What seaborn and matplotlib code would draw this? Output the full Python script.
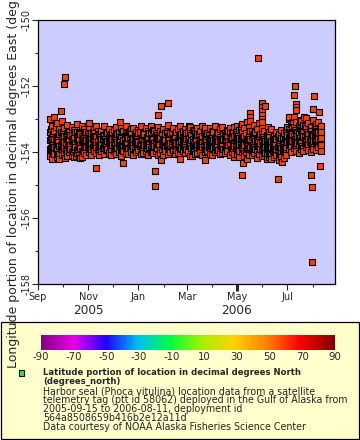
import pandas as pd
import seaborn as sns
import matplotlib.pyplot as plt
import matplotlib.dates as mdates
from matplotlib.colors import LinearSegmentedColormap, Normalize
from matplotlib.cm import ScalarMappable
from matplotlib.patches import Rectangle

# Données : jours depuis le déploiement (2005-09-15) et longitude
start = pd.Timestamp('2005-09-15')

band_day = [0, 3, 6, 9, 12, 15, 18, 21, 24, 27, 30, 33, 36, 39, 42, 45, 48, 51, 54, 57,
            60, 63, 66, 69, 72, 75, 78, 81, 84, 87, 90, 93, 96, 99, 102, 105, 108, 111, 114, 117,
            120, 123, 126, 129, 132, 135, 138, 141, 144, 147, 150, 153, 156, 159, 162, 165, 168, 171, 174, 177,
            180, 183, 186, 189, 192, 195, 198, 201, 204, 207, 210, 213, 216, 219, 222, 225, 228, 231, 234, 237,
            240, 243, 246, 249, 252, 255, 258, 261, 264, 267, 270, 273, 276, 279, 282, 285, 288, 291, 294, 297,
            300, 303, 306, 309, 312, 315, 318, 321, 324, 327, 330]

lon_s1 = [-153.0, -153.22, -152.95, -153.12, -153.3, -153.05,
          -153.28, -153.18, -153.4, -153.25, -153.33, -153.15, -153.42, -153.22, -153.3, -153.38,
          -153.25, -153.41, -153.3, -153.22, -153.44, -153.35, -153.2, -153.38, -153.29, -153.45,
          -153.32, -153.24, -153.4, -153.27, -153.36, -153.21, -153.43, -153.31, -153.26, -153.39,
          -153.34, -153.22, -153.42, -153.28, -153.37, -153.2, -153.33, -153.45, -153.25, -153.35,
          -153.3, -153.41, -153.23, -153.38, -153.27, -153.44, -153.31, -153.21, -153.36, -153.29,
          -153.4, -153.24, -153.34, -153.43, -153.26, -153.37, -153.22, -153.32, -153.45, -153.28,
          -153.35, -153.21, -153.39, -153.3, -153.25, -153.42, -153.33, -153.27, -153.38, -153.23,
          -153.2, -153.32, -153.15, -153.28, -153.1, -153.25, -153.35, -153.18, -153.3, -153.12, -153.26,
          -153.35, -153.48, -153.4, -153.3, -153.5, -153.38, -153.45, -153.33, -153.42, -153.36,
          -153.0, -153.15, -152.95, -153.1, -153.22, -153.05, -153.18, -152.98, -153.12, -153.25,
          -153.02, -153.15, -153.08, -153.2]

lon_s2 = [-153.4, -153.55, -153.35, -153.6, -153.45, -153.5,
          -153.5, -153.42, -153.62, -153.47, -153.56, -153.4, -153.6, -153.52, -153.45, -153.58,
          -153.5, -153.62, -153.42, -153.56, -153.47, -153.64, -153.53, -153.4, -153.59, -153.48,
          -153.61, -153.44, -153.55, -153.5, -153.63, -153.41, -153.57, -153.46, -153.6, -153.52,
          -153.43, -153.58, -153.49, -153.65, -153.54, -153.45, -153.6, -153.42, -153.56, -153.51,
          -153.62, -153.47, -153.53, -153.41, -153.59, -153.5, -153.64, -153.44, -153.55, -153.48,
          -153.57, -153.42, -153.61, -153.52, -153.46, -153.63, -153.5, -153.55, -153.43, -153.58,
          -153.49, -153.6, -153.45, -153.54, -153.62, -153.47, -153.56, -153.41, -153.59, -153.52,
          -153.45, -153.58, -153.4, -153.52, -153.62, -153.47, -153.55, -153.42, -153.6, -153.5, -153.44,
          -153.6, -153.7, -153.56, -153.66, -153.74, -153.62, -153.68, -153.58, -153.72, -153.64,
          -153.3, -153.42, -153.25, -153.38, -153.46, -153.32, -153.4, -153.28, -153.44, -153.35,
          -153.5, -153.3, -153.38, -153.45]

lon_s3 = [-153.65, -153.78, -153.6, -153.72, -153.82, -153.68,
          -153.7, -153.62, -153.8, -153.66, -153.75, -153.6, -153.78, -153.68, -153.74, -153.64,
          -153.66, -153.74, -153.58, -153.7, -153.79, -153.62, -153.75, -153.68, -153.56, -153.72,
          -153.77, -153.6, -153.69, -153.8, -153.64, -153.73, -153.57, -153.71, -153.78, -153.63,
          -153.7, -153.59, -153.76, -153.66, -153.74, -153.61, -153.8, -153.68, -153.72, -153.58,
          -153.75, -153.65, -153.7, -153.79, -153.6, -153.73, -153.67, -153.56, -153.77, -153.69,
          -153.62, -153.74, -153.71, -153.59, -153.78, -153.64, -153.72, -153.66, -153.8, -153.61,
          -153.7, -153.76, -153.57, -153.68, -153.73, -153.63, -153.79, -153.67, -153.6, -153.75,
          -153.68, -153.75, -153.62, -153.8, -153.7, -153.65, -153.78, -153.6, -153.72, -153.82, -153.66,
          -153.82, -153.9, -153.78, -153.86, -153.8, -153.92, -153.84, -153.88, -153.76, -153.85,
          -153.55, -153.62, -153.5, -153.66, -153.58, -153.7, -153.52, -153.64, -153.6, -153.56,
          -153.68, -153.54, -153.62, -153.58]

lon_s4 = [-153.9, -154.0, -153.85, -153.95, -154.05, -153.92,
          -153.88, -153.96, -153.82, -154.0, -153.9, -153.94, -153.85, -153.98, -153.9, -153.86,
          -153.84, -153.92, -153.78, -153.88, -153.95, -153.8, -153.9, -153.86, -153.74, -153.93,
          -153.82, -153.89, -153.76, -153.94, -153.85, -153.79, -153.91, -153.83, -153.87, -153.75,
          -153.9, -153.81, -153.95, -153.86, -153.78, -153.92, -153.84, -153.88, -153.77, -153.93,
          -153.8, -153.89, -153.85, -153.74, -153.94, -153.82, -153.87, -153.9, -153.79, -153.86,
          -153.92, -153.76, -153.88, -153.83, -153.95, -153.8, -153.85, -153.91, -153.78, -153.89,
          -153.84, -153.93, -153.77, -153.87, -153.81, -153.94, -153.86, -153.79, -153.9, -153.83,
          -153.9, -153.98, -153.85, -154.02, -153.92, -153.88, -154.0, -153.86, -153.95, -154.05, -153.9,
          -153.98, -154.05, -153.95, -154.1, -154.0, -153.96, -154.08, -154.02, -153.94, -154.04,
          -153.75, -153.82, -153.7, -153.86, -153.78, -153.72, -153.88, -153.76, -153.8, -153.74,
          -153.85, -153.7, -153.82, -153.78]

lon_s5 = [-154.12, -154.2, -154.05, -154.15, -154.22, -154.08,
          -154.05, -154.12, -154.0, -154.1, -154.15, -154.02, -154.08, -154.14, -154.03, -154.1,
          -154.0, -154.08, -153.96, -154.04, -154.1, -153.98, -154.06, -153.95, -154.02, -154.09,
          -153.97, -154.05, -154.0, -154.11, -153.96, -154.03, -154.07, -153.99, -154.1, -154.01,
          -153.95, -154.06, -154.02, -153.98, -154.09, -154.0, -154.04, -153.96, -154.08, -154.03,
          -154.1, -153.97, -154.05, -154.01, -153.95, -154.07, -154.02, -154.09, -153.98, -154.04,
          -154.0, -154.11, -153.96, -154.06, -154.03, -153.99, -154.08, -154.01, -153.97, -154.05,
          -154.1, -154.0, -153.95, -154.07, -154.02, -154.04, -153.98, -154.09, -154.01, -154.06,
          -154.05, -154.15, -154.0, -154.12, -154.2, -154.08, -154.1, -154.02, -154.18, -154.06, -154.12,
          -154.12, -154.2, -154.08, -154.22, -154.15, -154.1, -154.25, -154.14, -154.18, -154.1,
          -153.92, -154.0, -153.88, -153.96, -154.02, -153.9, -153.98, -153.85, -153.95, -154.0,
          -153.9, -153.94, -153.86, -153.98]

# positions intermédiaires (entre deux jours de band_day)
band_day2 = [1.5, 4.5, 7.5, 10.5, 13.5, 16.5, 19.5, 22.5, 25.5, 28.5, 31.5, 34.5, 37.5, 40.5, 43.5,
             46.5, 49.5, 52.5, 55.5, 58.5, 61.5, 64.5, 67.5, 70.5, 73.5, 76.5, 79.5, 82.5, 85.5, 88.5,
             91.5, 94.5, 97.5, 100.5, 103.5, 106.5, 109.5, 112.5, 115.5, 118.5, 121.5, 124.5, 127.5, 130.5,
             133.5, 136.5, 139.5, 142.5, 145.5, 148.5, 151.5, 154.5, 157.5, 160.5, 163.5, 166.5, 169.5, 172.5,
             175.5, 178.5, 181.5, 184.5, 187.5, 190.5, 193.5, 196.5, 199.5, 202.5, 205.5, 208.5, 211.5, 214.5,
             217.5, 220.5, 223.5, 226.5, 229.5, 232.5, 235.5, 238.5, 241.5, 244.5, 247.5, 250.5, 253.5, 256.5,
             259.5, 262.5, 265.5, 268.5, 271.5, 274.5, 277.5, 280.5, 283.5, 286.5, 289.5, 292.5, 295.5, 298.5,
             301.5, 304.5, 307.5, 310.5, 313.5, 316.5, 319.5, 322.5, 325.5, 328.5]

lon_t1 = [-153.3, -153.45, -153.25, -153.5, -153.38,
          -153.42, -153.55, -153.36, -153.48, -153.6, -153.4, -153.52, -153.44, -153.58, -153.38,
          -153.46, -153.58, -153.4, -153.52, -153.36, -153.55, -153.48, -153.6, -153.42, -153.5,
          -153.38, -153.56, -153.45, -153.62, -153.4, -153.53, -153.47, -153.35, -153.58, -153.44,
          -153.51, -153.39, -153.6, -153.46, -153.54, -153.41, -153.57, -153.37, -153.49, -153.55,
          -153.43, -153.61, -153.4, -153.52, -153.46, -153.58, -153.38, -153.5, -153.44, -153.56,
          -153.41, -153.59, -153.47, -153.36, -153.53, -153.45, -153.6, -153.4, -153.51, -153.48,
          -153.57, -153.39, -153.54, -153.43, -153.6, -153.46, -153.5, -153.37, -153.55, -153.42,
          -153.38, -153.5, -153.32, -153.55, -153.42, -153.6, -153.35, -153.48, -153.4, -153.58, -153.45,
          -153.55, -153.66, -153.5, -153.7, -153.58, -153.62, -153.52, -153.68, -153.56, -153.6,
          -153.25, -153.38, -153.2, -153.32, -153.42, -153.28, -153.35, -153.22, -153.4, -153.3,
          -153.45, -153.26, -153.36, -153.32]

lon_t2 = [-153.62, -153.75, -153.58, -153.7, -153.8,
          -153.66, -153.74, -153.6, -153.78, -153.68, -153.72, -153.63, -153.8, -153.7, -153.65,
          -153.64, -153.72, -153.6, -153.76, -153.67, -153.7, -153.62, -153.78, -153.66, -153.73,
          -153.61, -153.75, -153.69, -153.63, -153.77, -153.65, -153.71, -153.6, -153.74, -153.68,
          -153.66, -153.79, -153.62, -153.7, -153.64, -153.76, -153.67, -153.72, -153.61, -153.75,
          -153.69, -153.63, -153.78, -153.65, -153.71, -153.6, -153.73, -153.68, -153.66, -153.77,
          -153.62, -153.7, -153.64, -153.75, -153.67, -153.72, -153.61, -153.78, -153.69, -153.65,
          -153.74, -153.63, -153.7, -153.66, -153.76, -153.62, -153.71, -153.68, -153.6, -153.73,
          -153.62, -153.7, -153.58, -153.75, -153.66, -153.72, -153.6, -153.78, -153.68, -153.64, -153.74,
          -153.78, -153.84, -153.75, -153.88, -153.8, -153.76, -153.86, -153.82, -153.78, -153.84,
          -153.48, -153.55, -153.45, -153.6, -153.52, -153.58, -153.46, -153.56, -153.5, -153.62,
          -153.48, -153.54, -153.52, -153.58]

lon_t3 = [-153.88, -153.98, -153.82, -154.05, -153.92,
          -153.85, -153.94, -153.8, -153.9, -153.98, -153.84, -153.92, -153.88, -153.96, -153.82,
          -153.82, -153.9, -153.86, -153.78, -153.94, -153.84, -153.88, -153.8, -153.92, -153.85,
          -153.79, -153.91, -153.87, -153.83, -153.95, -153.81, -153.89, -153.85, -153.78, -153.93,
          -153.86, -153.82, -153.9, -153.8, -153.88, -153.84, -153.96, -153.83, -153.87, -153.79,
          -153.92, -153.85, -153.81, -153.9, -153.86, -153.78, -153.94, -153.84, -153.88, -153.82,
          -153.9, -153.8, -153.87, -153.93, -153.83, -153.89, -153.79, -153.86, -153.91, -153.84,
          -153.81, -153.88, -153.85, -153.95, -153.82, -153.9, -153.86, -153.8, -153.92, -153.87,
          -153.85, -153.95, -153.8, -153.9, -154.0, -153.88, -153.84, -153.96, -153.9, -153.82, -153.92,
          -153.95, -154.02, -153.92, -154.06, -153.98, -154.0, -153.94, -154.04, -153.96, -154.0,
          -153.7, -153.78, -153.66, -153.8, -153.74, -153.68, -153.82, -153.72, -153.76, -153.7,
          -153.8, -153.66, -153.75, -153.72]

extra_day = [14, 17.6, 18.8, 18.8, 32, 37, 48, 57, 85.6, 89.7,
             96.6, 128.5, 128.5, 132, 136, 136, 144, 144.3, 159, 170,
             173, 189, 189, 224.5, 233, 234, 235.5, 244, 244, 244,
             253.7, 258.5, 258.5, 258.5, 258.5, 258.5, 258.5, 262, 265.7, 267,
             278, 283, 291, 296.6, 297.5, 298.7, 299.8, 299.8, 299.8, 305,
             309.6, 318, 319, 319, 320.5, 321.8, 326.4, 328, 329, 330]
extra_lon = [-152.76, -151.94, -151.72, -154.17, -154.11, -154.17, -153.12, -154.48, -153.08, -154.32,
             -153.38, -154.58, -155.03, -152.87, -152.6, -154.24, -152.5, -153.18, -154.2, -153.2,
             -154.12, -153.26, -154.24, -154.15, -153.24, -154.7, -154.33, -152.82, -152.94, -153.06,
             -151.15, -152.52, -152.64, -152.76, -152.88, -153.0, -153.09, -152.6, -153.24, -154.15,
             -154.82, -154.3, -152.94, -153.09, -152.27, -152.0, -152.55, -152.64, -152.73, -153.03,
             -152.94, -154.7, -155.06, -157.33, -152.7, -152.3, -153.12, -152.79, -154.42, -153.39]

cbar_ticks = [-90, -70, -50, -30, -10, 10, 30, 50, 70, 90]
legend_title = ["Latitude portion of location in decimal degrees North", "(degrees_north)"]
legend_lines = ["Harbor seal (Phoca vitulina) location data from a satellite",
                "telemetry tag (ptt id 58062) deployed in the Gulf of Alaska from",
                "2005-09-15 to 2006-08-11, deployment id",
                "564a8508659b416b2e12a11d",
                "Data courtesy of NOAA Alaska Fisheries Science Center"]

days = band_day * 5 + band_day2 * 3 + extra_day
lons = lon_s1 + lon_s2 + lon_s3 + lon_s4 + lon_s5 + lon_t1 + lon_t2 + lon_t3 + extra_lon
df = pd.DataFrame({'time': start + pd.to_timedelta(days, unit='D'), 'lon': lons})
df = df.sort_values('time', kind='stable')

sns.set_style("ticks")
plt.rcParams['font.family'] = ['DejaVu Sans']
plt.rcParams['axes.unicode_minus'] = False

W, H = 360, 440
fig = plt.figure(figsize=(W / 100, H / 100), dpi=100)

def px(x0, y0, x1, y1):
    return [x0 / W, 1 - y1 / H, (x1 - x0) / W, (y1 - y0) / H]

ax = fig.add_axes(px(38, 20, 335, 284))
ax.set_facecolor('#ccccff')
sns.scatterplot(data=df, x='time', y='lon', ax=ax, marker='s', s=20,
                color='#ff4000', edgecolor='black', linewidth=0.8, legend=False, zorder=3)

ax.set_ylim(-158, -150)
ax.set_yticks([-158, -156, -154, -152, -150])
ax.set_yticks([-157, -155, -153, -151], minor=True)
ax.tick_params(axis='y', labelrotation=90, labelsize=7, length=4, width=0.8, pad=1)
for lab in ax.get_yticklabels():
    lab.set_va('center')
ax.tick_params(axis='y', which='minor', length=2.5, width=0.8)

x0, x1 = pd.Timestamp('2005-09-01'), pd.Timestamp('2006-08-28 08:00')
ax.set_xlim(x0, x1)
ax.xaxis.set_major_locator(mdates.MonthLocator(bymonth=[1, 3, 5, 7, 9, 11]))
ax.xaxis.set_minor_locator(mdates.MonthLocator())
ax.xaxis.set_major_formatter(mdates.DateFormatter('%b'))
ax.tick_params(axis='x', labelsize=7, length=4, width=0.8, pad=2)
ax.tick_params(axis='x', which='minor', length=2.5, width=0.8)
for t in ax.xaxis.get_major_ticks():
    if mdates.num2date(t.get_loc()).month == 1:
        t.tick1line.set_markeredgewidth(2.2)
        t.tick1line.set_markersize(5)
ax.set_xlabel('')
ax.set_ylabel('')
for s in ax.spines.values():
    s.set_linewidth(0.9)
    s.set_color('black')

jan = pd.Timestamp('2006-01-01')
trans = ax.get_xaxis_transform()
ax.text(x0 + (jan - x0) / 2, -0.101, '2005', transform=trans, ha='center', va='center', fontsize=8.7)
ax.text(jan + (x1 - jan) / 2, -0.101, '2006', transform=trans, ha='center', va='center', fontsize=8.7)

# cadre de légende
fig.add_artist(Rectangle((0.5 / W, 1 - 439 / H), 358 / W, 117.5 / H, transform=fig.transFigure,
                         facecolor='#ffffcc', edgecolor='black', linewidth=0.9, zorder=1))

cmap = LinearSegmentedColormap.from_list('rainbow_erddap', [
    (0.0, '#800080'), (0.11, '#e800e8'), (0.22, '#2000ff'), (0.33, '#00c0f0'),
    (0.44, '#00ff40'), (0.55, '#a8f000'), (0.66, '#ffd000'), (0.77, '#ff8000'),
    (0.88, '#ff0000'), (1.0, '#800000')])
cax = fig.add_axes(px(41, 335, 335, 349.5))
cax.set_zorder(2)
cb = fig.colorbar(ScalarMappable(Normalize(-90, 90), cmap), cax=cax, orientation='horizontal')
cb.outline.set_visible(False)
cb.set_ticks(cbar_ticks)
cax.tick_params(labelsize=7.3, length=0, pad=2)

fig.add_artist(Rectangle((18.5 / W, 1 - 375.5 / H), 5.5 / W, 5.5 / H, transform=fig.transFigure,
                         facecolor='#44e044', edgecolor='black', linewidth=0.8, zorder=2))
for i, line in enumerate(legend_title):
    fig.text(43 / W, 1 - (372.7 + 9 * i) / H, line, fontsize=6.15, fontweight='bold', va='center', zorder=3)
for i, line in enumerate(legend_lines):
    fig.text(43 / W, 1 - (391 + 8.9 * i) / H, line, fontsize=6.85, va='center', zorder=3)

fig.text(14 / W, 1 - 152 / H, 'Longitude portion of location in decimal degrees East (degrees_east)',
         rotation=90, ha='center', va='center', fontsize=9, zorder=5)

plt.savefig('out.png', dpi=100)
